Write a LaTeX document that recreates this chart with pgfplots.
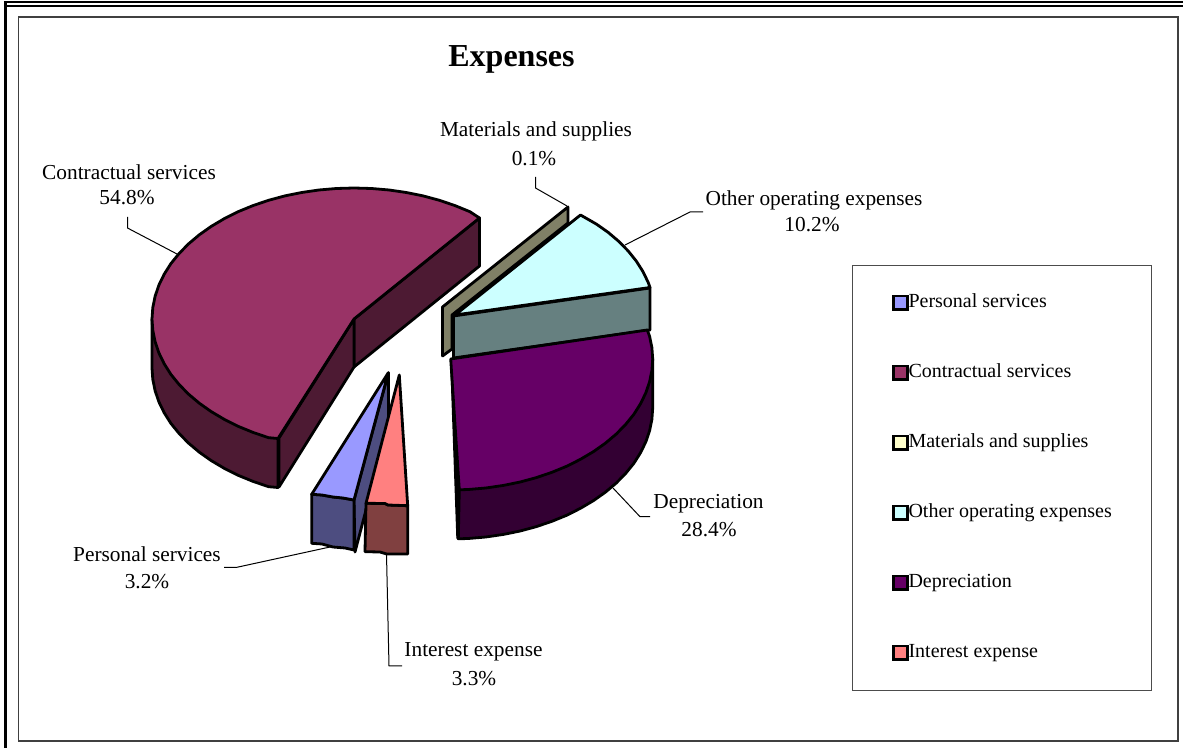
\documentclass[border=0pt]{standalone}
\usepackage{pgfplots}
\pgfplotsset{compat=1.18}
\usepackage{fontspec}
\setmainfont{Liberation Serif}
\definecolor{cTop}{HTML}{993366}
\definecolor{cWall}{HTML}{4D1A33}
\definecolor{pTop}{HTML}{9999FF}
\definecolor{pWall}{HTML}{4D4D80}
\definecolor{iTop}{HTML}{FF8080}
\definecolor{iWall}{HTML}{804040}
\definecolor{dTop}{HTML}{660066}
\definecolor{dWall}{HTML}{330033}
\definecolor{oTop}{HTML}{CCFFFF}
\definecolor{oWall}{HTML}{668080}
\definecolor{mWall}{HTML}{808066}
\definecolor{mTop}{HTML}{FFFFCC}
\begin{document}
\begin{tikzpicture}[x=1pt,y=1pt]
\path[use as bounding box] (0,0) rectangle (887.25,561);
\begin{axis}[
  at={(0,0)}, anchor=south west,
  scale only axis, width=887.25pt, height=561pt,
  xmin=0, xmax=1183, ymin=0, ymax=748, y dir=reverse,
  axis lines=none, clip=false,
  legend cell align=left,
  legend style={at={(axis cs:852,265)}, anchor=north west, draw=black!70, line width=0.8pt,
    inner xsep=29.7pt, inner ysep=20.5pt, row sep=37.5pt,
    font=\fontsize{15}{16}\selectfont,
    nodes={text height=11pt, text depth=4pt, inner sep=0pt, anchor=base west}},
  legend image code/.code={\draw[#1, draw=black, line width=1.9pt] (0.2pt,-1.6pt) rectangle (10.6pt,8.6pt);},
  every axis plot/.append style={forget plot},
  pieface/.style={draw=black, line width=2.1pt, line join=round},
  leader/.style={draw=black, line width=0.75pt, no marks},
]
% legend swatches
\addlegendimage{fill=pTop}
\addlegendimage{fill=cTop}
\addlegendimage{fill=mTop}
\addlegendimage{fill=oTop}
\addlegendimage{fill=dTop}
\addlegendimage{fill=iTop}
\legend{Personal services,Contractual services,Materials and supplies,Other operating expenses,Depreciation,Interest expense}

% leaders
\addplot[leader] coordinates {(127.5,217)(127.5,228)(177,254)};
\addplot[leader] coordinates {(535.5,177)(535.5,188)(567,206)};
\addplot[leader] coordinates {(703,212)(690,212)(625,245)};
\addplot[leader] coordinates {(613,488)(640,516.7)(650,516.7)};
\addplot[leader] coordinates {(224,567.5)(236,567.5)(330,547)};
\addplot[leader] coordinates {(386.5,554)(389,666)(402,666)};

% Contractual services: cut faces, wall, top
\addplot[pieface, fill=cWall] coordinates {(354,319)(479.5,218)(479.5,266)(354,367)} -- cycle;
\addplot[pieface, fill=cWall] coordinates {(354,319)(279,438)(279,487)(354,367)} -- cycle;
\addplot[pieface, fill=cWall] coordinates {(152,319)(152,368)(152.8,379.4)(155.1,390.7)(158.9,401.9)(164.2,412.8)(170.9,423.4)(179.1,433.5)(188.5,443.1)(199.3,452.2)(211.2,460.6)(224.2,468.3)(238.1,475.3)(253,481.4)(268.6,486.7)(278,487.5)(278,438.5)} -- cycle;
\addplot[pieface, fill=cTop] coordinates {(354,319)(479.5,218)(469.9,211.7)(455,205.6)(439.4,200.3)(423.1,195.9)(406.3,192.5)(389.1,190)(371.6,188.5)(354,188)(336.4,188.5)(318.9,190)(301.7,192.5)(284.9,195.9)(268.6,200.3)(253,205.6)(238.1,211.7)(224.2,218.7)(211.2,226.4)(199.3,234.8)(188.5,243.9)(179.1,253.5)(170.9,263.6)(164.2,274.2)(158.9,285.1)(155.1,296.3)(152.8,307.6)(152,319)(152.8,330.4)(155.1,341.7)(158.9,352.9)(164.2,363.8)(170.9,374.4)(179.1,384.5)(188.5,394.1)(199.3,403.2)(211.2,411.6)(224.2,419.3)(238.1,426.3)(253,432.4)(268.6,437.7)(278,438.5)} -- cycle;

% Materials and supplies
\addplot[pieface, fill=mWall] coordinates {(568,207)(442.5,307)(442.5,356)(452,349)(452,315)(568,223)} -- cycle;

% Other operating expenses
\addplot[pieface, fill=oWall] coordinates {(453.5,316)(650,288)(650,330)(453.5,358)} -- cycle;
\addplot[pieface, fill=oTop] coordinates {(455,315)(580.5,215)(596.4,224.1)(608.2,232.4)(618.8,241.4)(628.2,251)(636.3,261.1)(642.9,271.5)(648.2,282.4)(650,287.5)} -- cycle;

% Depreciation
\addplot[draw=black, fill=black, line width=1pt] coordinates {(450.7,359)(457,538)(459.3,538)(459.3,489)} -- cycle;
\addplot[pieface, fill=dWall] coordinates {(652.7,359)(652.7,408)(651.9,419.4)(649.6,430.7)(645.8,441.9)(640.5,452.8)(633.8,463.4)(625.6,473.5)(616.2,483.1)(605.4,492.2)(593.5,500.6)(580.5,508.3)(566.6,515.3)(551.7,521.4)(536.1,526.7)(519.8,531.1)(503,534.5)(485.8,537)(468.3,538.5)(458.3,538.8)(459.3,489.3)} -- cycle;
\addplot[pieface, fill=dTop] coordinates {(450.7,359)(647.3,330)(649.6,336.3)(651.9,347.6)(652.7,359)(651.9,370.4)(649.6,381.7)(645.8,392.9)(640.5,403.8)(633.8,414.4)(625.6,424.5)(616.2,434.1)(605.4,443.2)(593.5,451.6)(580.5,459.3)(566.6,466.3)(551.7,472.4)(536.1,477.7)(519.8,482.1)(503,485.5)(485.8,488)(468.3,489.5)(459.3,489.8)} -- cycle;

% Personal services
\addplot[pieface, fill=pWall] coordinates {(388.5,372.7)(354,500)(355,552)(388.5,424)} -- cycle;
\addplot[pieface, fill=pWall] coordinates {(311.7,494.3)(311.7,543.3)(322,544)(333,547)(345,548)(354,550)(354,500)(343,498)(333,497)(322,495)} -- cycle;
\addplot[pieface, fill=pTop] coordinates {(388.3,372.7)(311.7,494.3)(322,495)(333,497)(343,498)(354,500)} -- cycle;

% Interest expense
\addplot[pieface, fill=iWall] coordinates {(366,503.3)(365,551.7)(380,552)(386.7,554)(407.7,554)(407.7,505.7)(388,505)(385,503.5)} -- cycle;
\addplot[pieface, fill=iTop] coordinates {(399.3,375)(366,503.3)(385,503.5)(388,505)(407.7,505.7)} -- cycle;

% labels
\node[font=\fontsize{24}{28}\selectfont\bfseries] at (axis cs:511.5,59) {Expenses};
\begin{scope}[every node/.style={font=\fontsize{16}{18}\selectfont, inner sep=0pt}]
\node at (axis cs:536,131) {Materials and supplies};
\node at (axis cs:534,158.5) {0.1\%};
\node at (axis cs:814,200) {Other operating expenses};
\node at (axis cs:812,225) {10.2\%};
\node at (axis cs:129,172) {Contractual services};
\node at (axis cs:127,198) {54.8\%};
\node at (axis cs:708.5,504) {Depreciation};
\node at (axis cs:709,530) {28.4\%};
\node at (axis cs:147,554) {Personal services};
\node at (axis cs:147,582) {3.2\%};
\node at (axis cs:473.5,652) {Interest expense};
\node at (axis cs:474,679) {3.3\%};
\end{scope}

% frames
\draw[black, line width=1.5pt] (axis cs:4,2.5) -- (axis cs:1183,2.5);
\draw[black, line width=1.5pt] (axis cs:4,6.2) -- (axis cs:1183,6.2);
\draw[black, line width=2.6pt] (axis cs:5.7,2) -- (axis cs:5.7,748);
\draw[black!75, line width=0.9pt] (axis cs:18.5,17) rectangle (axis cs:1178,741);
\end{axis}
\end{tikzpicture}
\end{document}
